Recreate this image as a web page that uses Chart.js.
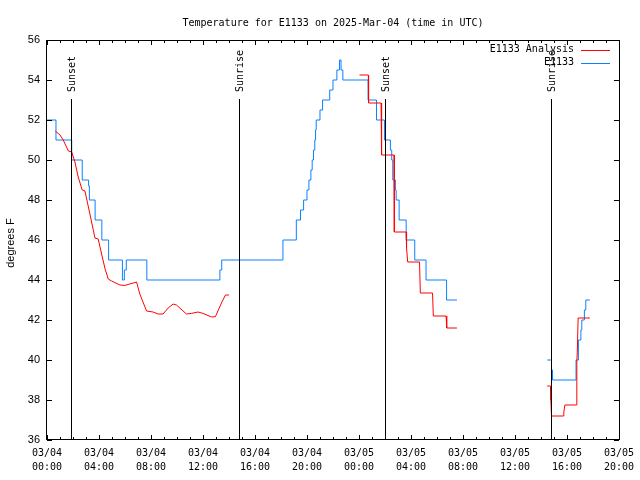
<!DOCTYPE html>
<html lang="en">
<head>
  <meta charset="UTF-8" />
  <title>Temperature for E1133</title>
  <script src="https://cdn.jsdelivr.net/npm/chart.js"></script>
  <style>
    body {
      margin: 0;
      background: #fff;
    }
    canvas {
      display: block;
    }
  </style>
</head>
<body>
  <canvas id="tempChart" width="640" height="480"></canvas>

  <script>
    // hours since 03/04 00:00 UTC
    const sensorHours = [0, 0.69, 1.9, 2.71, 3.2, 3.26, 3.7, 4.22, 4.74, 5.8, 5.95, 6.1, 7.68, 13.3, 13.44,
      18.15, 19.18, 19.5, 19.74, 20.0, 20.15, 20.3, 20.4, 20.5, 20.6, 20.66, 20.71, 21.0, 21.2, 21.75, 22.0,
      22.3, 22.5, 22.62, 22.76, 24.7, 25.35, 25.96, 26.42, 26.52, 26.6, 26.8, 26.86, 27.09, 27.63, 28.29,
      29.16, 30.74, 31.54, 31.6, 38.48, 38.81, 38.89, 40.7, 40.88, 41.07, 41.14, 41.34, 41.45, 41.76];
    const sensorTemps = [52, 51, 50, 49, 48.7, 48, 47, 46, 45, 44, 44.5, 45, 44, 44.5, 45,
      46, 47, 47.5, 48, 48.5, 49, 49.5, 50, 50.5, 51, 51.5, 52, 52.5, 53, 53.5, 54,
      54.5, 55, 54.5, 54, 53, 52, 51, 50.5, 50, 49, 48.5, 48, 47, 46, 45,
      44, 43, 43, null, 40, 39.5, 39, 40, 41, 41.5, 42, 42.5, 43, 43];

    const analysisHours = [0.64, 1.0, 1.25, 1.64, 1.9, 2.15, 2.4, 2.71, 2.92, 3.3, 3.69, 3.94, 4.2, 4.45,
      4.71, 4.97, 5.61, 5.99, 6.37, 6.89, 7.14, 7.66, 8.16, 8.55, 8.93, 9.32, 9.7, 9.96, 10.73, 11.11,
      11.62, 12.0, 12.65, 12.96, 13.42, 13.73, 14.0, 14.1,
      24.04, 24.72, 24.74, 25.7, 25.72, 25.76, 26.7, 26.72, 27.63, 27.66, 27.75, 28.66, 28.72, 29.66,
      29.72, 30.7, 30.75, 31.54, 31.6,
      38.48, 38.73, 38.76, 38.81, 39.73, 39.76, 39.84, 40.73, 40.76, 40.8, 40.86, 41.76];
    const analysisTemps = [51.45, 51.25, 51.0, 50.45, 50.4, 49.9, 49.15, 48.5, 48.45, 47.3, 46.1, 46.05, 45.3, 44.6,
      44.05, 43.95, 43.75, 43.73, 43.8, 43.9, 43.3, 42.45, 42.4, 42.3, 42.3, 42.6, 42.8, 42.75, 42.3, 42.33,
      42.4, 42.33, 42.15, 42.17, 42.85, 43.25, 43.25, null,
      54.25, 54.25, 52.85, 52.85, 51.5, 50.25, 50.25, 46.4, 46.4, 45.6, 44.9, 44.9, 43.35, 43.35,
      42.2, 42.2, 41.6, 41.6, null,
      38.7, 38.7, 38.0, 37.2, 37.2, 37.4, 37.75, 37.75, 39.9, 40.5, 42.1, 42.1];

    const eventHours = [1.87, 14.77, 25.98, 38.8];
    const eventLabels = ["Sunset", "Sunrise", "Sunset", "Sunrise"];

    const tickDates = ["03/04", "03/04", "03/04", "03/04", "03/04", "03/04",
      "03/05", "03/05", "03/05", "03/05", "03/05", "03/05"];
    const tickTimes = ["00:00", "04:00", "08:00", "12:00", "16:00", "20:00",
      "00:00", "04:00", "08:00", "12:00", "16:00", "20:00"];

    const titleText = "Temperature for E1133 on 2025-Mar-04 (time in UTC)";
    const yTitle = "degrees F";

    const mono = '10px "DejaVu Sans Mono", monospace';
    const sans = '11px "Liberation Sans", Arial, sans-serif';

    const toPoints = (xs, ys) => xs.map((x, i) => ({ x: x, y: ys[i] }));

    // gnuplot-like frame, inward ticks, sun lines, key and titles
    const gnuplotDecor = {
      id: "gnuplotDecor",
      afterDatasetsDraw(chart) {
        const ctx = chart.ctx;
        const a = chart.chartArea;
        const xs = chart.scales.x;
        const ys = chart.scales.y;
        ctx.save();
        ctx.strokeStyle = "#000";
        ctx.lineWidth = 1;
        ctx.strokeRect(Math.round(a.left) - 0.5, Math.round(a.top) + 0.5,
          Math.round(a.right - a.left) + 1, Math.round(a.bottom - a.top) - 1);

        ctx.beginPath();
        for (let h = xs.min; h <= xs.max; h++) {
          const px = Math.round(xs.getPixelForValue(h)) + 0.5;
          const len = h % 4 === 0 ? 5 : 3;
          ctx.moveTo(px, a.bottom); ctx.lineTo(px, a.bottom - len);
          ctx.moveTo(px, a.top); ctx.lineTo(px, a.top + len);
        }
        for (let v = ys.min; v <= ys.max; v += 2) {
          const py = Math.round(ys.getPixelForValue(v)) + 0.5;
          ctx.moveTo(a.left, py); ctx.lineTo(a.left + 5, py);
          ctx.moveTo(a.right, py); ctx.lineTo(a.right - 5, py);
        }
        ctx.stroke();

        // sunrise / sunset markers
        ctx.font = mono;
        ctx.fillStyle = "#000";
        eventHours.forEach((h, i) => {
          const px = Math.round(xs.getPixelForValue(h)) + 0.5;
          ctx.beginPath();
          ctx.moveTo(px, 99);
          ctx.lineTo(px, a.bottom);
          ctx.stroke();
          ctx.save();
          ctx.translate(px + 1, 92);
          ctx.rotate(-Math.PI / 2);
          ctx.textAlign = "left";
          ctx.textBaseline = "middle";
          ctx.fillText(eventLabels[i], 0, 0);
          ctx.restore();
        });

        // key
        ctx.textAlign = "right";
        ctx.textBaseline = "middle";
        chart.data.datasets.forEach((ds, i) => {
          const ky = 49.5 + i * 13;
          ctx.fillStyle = "#000";
          ctx.fillText(ds.label, 574, ky);
          ctx.strokeStyle = ds.borderColor;
          ctx.beginPath();
          ctx.moveTo(581, Math.round(ky) + 0.5);
          ctx.lineTo(610, Math.round(ky) + 0.5);
          ctx.stroke();
        });

        // title
        ctx.fillStyle = "#000";
        ctx.textAlign = "center";
        ctx.fillText(titleText, (a.left + a.right) / 2, 23);

        // y axis title
        ctx.font = sans;
        ctx.save();
        ctx.translate(11, 243);
        ctx.rotate(-Math.PI / 2);
        ctx.textAlign = "center";
        ctx.textBaseline = "middle";
        ctx.fillText(yTitle, 0, 0);
        ctx.restore();

        ctx.restore();
      }
    };

    const ctx = document.getElementById("tempChart").getContext("2d");
    new Chart(ctx, {
      type: "line",
      data: {
        datasets: [
          {
            label: "E1133 Analysis",
            data: toPoints(analysisHours, analysisTemps),
            borderColor: "#ff0000",
            borderWidth: 1,
            pointRadius: 0,
            spanGaps: false,
            tension: 0
          },
          {
            label: "E1133",
            data: toPoints(sensorHours, sensorTemps),
            borderColor: "#0a80ff",
            borderWidth: 1,
            pointRadius: 0,
            stepped: "before",
            spanGaps: false
          }
        ]
      },
      options: {
        responsive: false,
        animation: false,
        devicePixelRatio: 1,
        layout: {
          padding: { top: 40, right: 20, left: 0, bottom: 0 }
        },
        plugins: {
          legend: { display: false },
          title: { display: false },
          tooltip: { enabled: false }
        },
        scales: {
          x: {
            type: "linear",
            min: 0,
            max: 44,
            grid: { display: false, drawTicks: false },
            border: { display: false },
            afterFit: (s) => { s.height = 40; },
            ticks: {
              stepSize: 4,
              autoSkip: false,
              maxRotation: 0,
              padding: 6,
              color: "#000",
              font: { family: '"DejaVu Sans Mono", monospace', size: 10, lineHeight: 1.4 },
              callback: (v) => {
                const i = Math.round(v / 4);
                return [tickDates[i], tickTimes[i]];
              }
            }
          },
          y: {
            min: 36,
            max: 56,
            grid: { display: false, drawTicks: false },
            border: { display: false },
            afterFit: (s) => { s.width = 47; },
            ticks: {
              stepSize: 2,
              padding: 7,
              color: "#000",
              font: { family: '"Liberation Sans", Arial, sans-serif', size: 11 }
            }
          }
        }
      },
      plugins: [gnuplotDecor]
    });
  </script>
</body>
</html>
